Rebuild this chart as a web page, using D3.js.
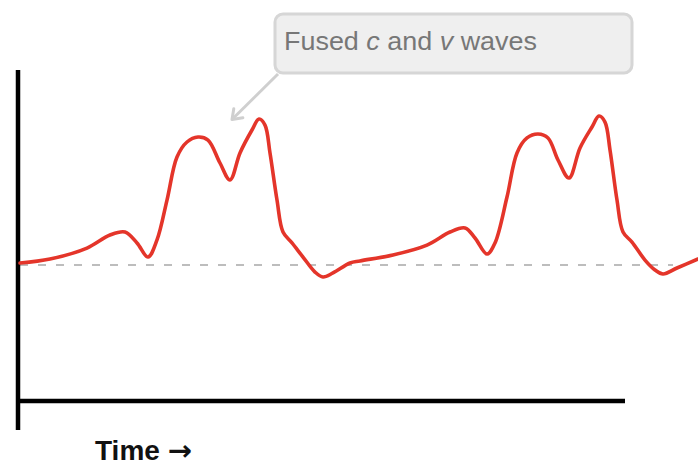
<!DOCTYPE html>
<html>
<head>
<meta charset="utf-8">
<script src="https://cdn.jsdelivr.net/npm/d3@7"></script>
<style>
  html, body { margin: 0; padding: 0; background: #ffffff; }
  svg { display: block; }
</style>
</head>
<body>
<svg id="chart" width="698" height="467"></svg>
<script>
// ---- Data (arbitrary units: time, pressure above baseline) ----
const time = [
  2, 32, 69, 92, 107, 119, 130, 139, 149, 159, 169, 180, 190, 202, 212, 222, 234, 241, 247, 252,
  259, 265, 274, 285, 297, 305, 315, 332,
  342, 375, 409, 432, 447, 457, 469, 477, 489, 499, 509, 520, 530, 540, 551, 562, 574, 581, 587, 592,
  599, 605, 614, 627, 637, 645, 659, 680
];
const pressure = [
  1.3, 4, 11.3, 20, 22, 14.7, 5.3, 16.7, 43.3, 72, 82, 85.3, 83.3, 68, 56.7, 74.7, 90, 97.3, 93.3, 74.7,
  43.3, 22, 14.7, 5.3, -4.7, -8, -5.3, 1.3,
  2.7, 6.7, 13.3, 22, 24.7, 18, 7.3, 14.7, 45.3, 74.7, 84.7, 87.3, 84.7, 70, 58, 78, 92, 99.3, 95.3, 76.7,
  43.3, 22, 15.3, 3.3, -3.3, -6, -2, 4
];
const baselineValue = [0];
const xAxisLabel = ["Time ", "\u2192"];
const annotationText = ["Fused ", "c", " and ", "v", " waves"];
const annotationTarget = [214, 97]; // time, pressure the arrow points at

// ---- Scales ----
const svg = d3.select("#chart");
const x = d3.scaleLinear().domain([0, 680]).range([18, 698]);
const y = d3.scaleLinear().domain([0, 100]).range([265, 115]);

// baseline dashed
svg.append("line")
  .attr("x1", x(2)).attr("x2", x(655))
  .attr("y1", y(baselineValue[0])).attr("y2", y(baselineValue[0]))
  .attr("stroke", "#bdbdbd").attr("stroke-width", 2.2)
  .attr("stroke-dasharray", "8,10");

// axes (plain lines, no ticks)
svg.append("line")
  .attr("x1", 18).attr("x2", 18).attr("y1", 70).attr("y2", 430)
  .attr("stroke", "#000").attr("stroke-width", 4.5);
svg.append("line")
  .attr("x1", 16).attr("x2", 625).attr("y1", 401).attr("y2", 401)
  .attr("stroke", "#000").attr("stroke-width", 4.5);

// curve
const pts = time.map((t, i) => [t, pressure[i]]);
const line = d3.line()
  .x(d => x(d[0])).y(d => y(d[1]))
  .curve(d3.curveCatmullRom.alpha(0.5));
svg.append("path")
  .datum(pts)
  .attr("d", line)
  .attr("fill", "none")
  .attr("stroke", "#e4352a")
  .attr("stroke-width", 3.6)
  .attr("stroke-linejoin", "round")
  .attr("stroke-linecap", "round");

// annotation arrow
const tipX = x(annotationTarget[0]), tipY = y(annotationTarget[1]);
const startX = 278, startY = 74;
svg.append("line")
  .attr("x1", startX).attr("y1", startY).attr("x2", tipX).attr("y2", tipY)
  .attr("stroke", "#cfcfcf").attr("stroke-width", 3);
const ang = Math.atan2(tipY - startY, tipX - startX);
const hl = 11, ha = Math.PI / 5;
svg.append("path")
  .attr("d", `M${tipX - hl*Math.cos(ang - ha)},${tipY - hl*Math.sin(ang - ha)} L${tipX},${tipY} L${tipX - hl*Math.cos(ang + ha)},${tipY - hl*Math.sin(ang + ha)}`)
  .attr("fill", "none").attr("stroke", "#cfcfcf").attr("stroke-width", 3)
  .attr("stroke-linecap", "round").attr("stroke-linejoin", "round");

// annotation box
svg.append("rect")
  .attr("x", 275).attr("y", 14).attr("width", 357).attr("height", 59)
  .attr("rx", 8).attr("ry", 8)
  .attr("fill", "#efefef").attr("stroke", "#d6d6d6").attr("stroke-width", 3);
const txt = svg.append("text")
  .attr("x", 284).attr("y", 50)
  .attr("font-family", "Liberation Sans, Arial, sans-serif")
  .attr("font-size", 26)
  .attr("fill", "#777777")
  .attr("textLength", 253)
  .attr("lengthAdjust", "spacingAndGlyphs");
annotationText.forEach((s, i) => {
  txt.append("tspan").text(s).attr("font-style", (i === 1 || i === 3) ? "italic" : "normal");
});

// x-axis label
const lbl = svg.append("text")
  .attr("x", 95).attr("y", 460)
  .attr("font-family", "Liberation Sans, Arial, sans-serif")
  .attr("font-weight", "bold")
  .attr("font-size", 27)
  .attr("fill", "#111")
  .attr("textLength", 97)
  .attr("lengthAdjust", "spacingAndGlyphs");
lbl.append("tspan").text(xAxisLabel[0]);
lbl.append("tspan").text(xAxisLabel[1])
  .attr("font-family", "DejaVu Sans, sans-serif")
  .attr("font-weight", "bold")
  .attr("font-size", 28);
</script>
</body>
</html>
